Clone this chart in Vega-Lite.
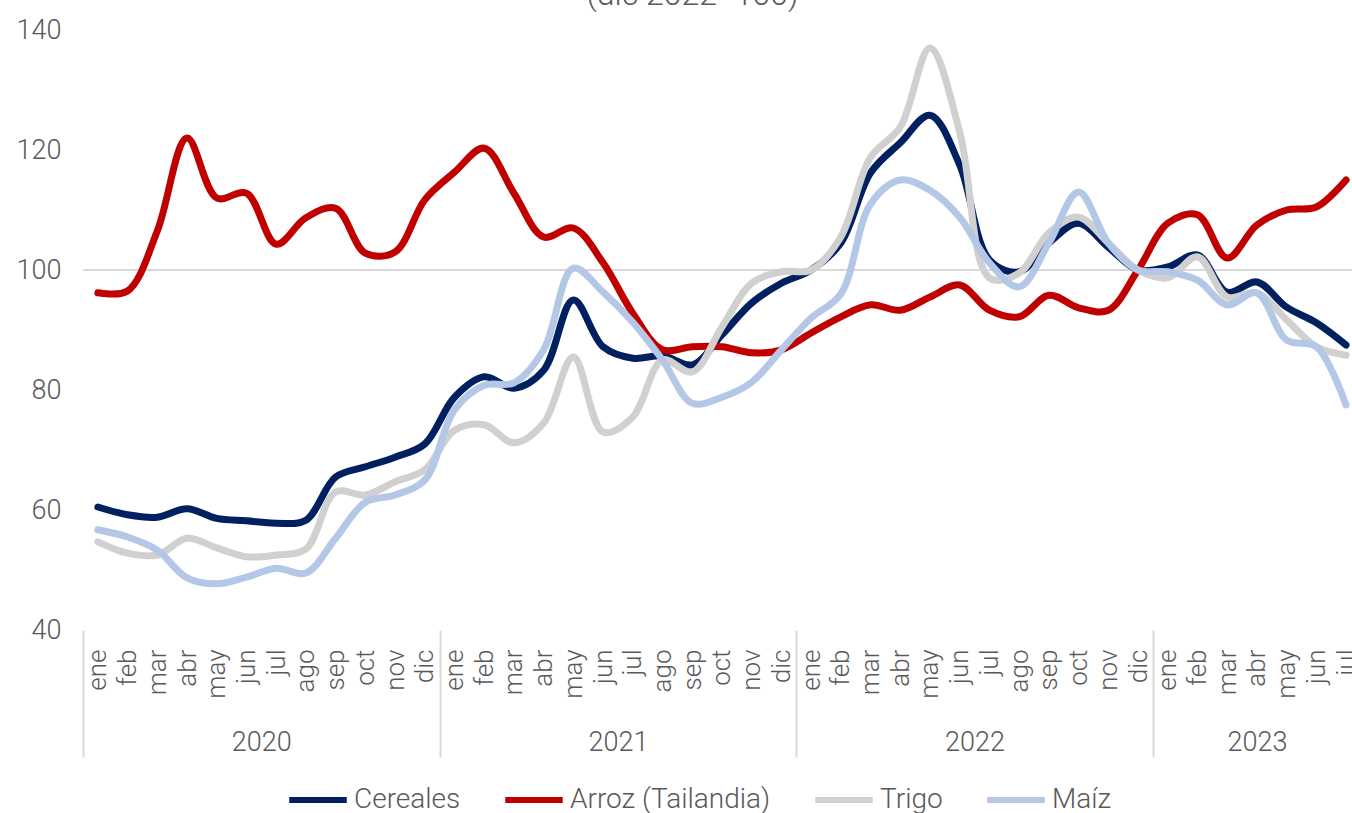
{
  "$schema": "https://vega.github.io/schema/vega-lite/v6.json",
  "width": 1269,
  "height": 600,
  "autosize": {"type": "none"},
  "padding": {"left": 83, "top": 30, "right": 0, "bottom": 183},
  "background": "white",
  "config": {
    "view": {"stroke": null},
    "font": "Roboto",
    "axis": {"labelFont": "Roboto", "labelFontWeight": 300, "labelColor": "#595959"},
    "legend": {"labelFont": "Roboto", "labelFontWeight": 300, "labelColor": "#595959"}
  },
  "title": {
    "text": "(dic 2022=100)",
    "fontSize": 32,
    "fontWeight": 300,
    "color": "#595959",
    "anchor": "middle",
    "dx": -25,
    "offset": 4
  },
  "data": {
    "values": [
      {"t":0,"s":"Cereales","v":60.5},{"t":1,"s":"Cereales","v":59.2},{"t":2,"s":"Cereales","v":58.8},{"t":3,"s":"Cereales","v":60.2},{"t":4,"s":"Cereales","v":58.6},{"t":5,"s":"Cereales","v":58.2},{"t":6,"s":"Cereales","v":57.8},{"t":7,"s":"Cereales","v":58.3},{"t":8,"s":"Cereales","v":65.5},{"t":9,"s":"Cereales","v":67.2},{"t":10,"s":"Cereales","v":68.8},{"t":11,"s":"Cereales","v":71},
      {"t":12,"s":"Cereales","v":78.8},{"t":13,"s":"Cereales","v":82.2},{"t":14,"s":"Cereales","v":80.3},{"t":15,"s":"Cereales","v":83.3},{"t":16,"s":"Cereales","v":95},{"t":17,"s":"Cereales","v":87.2},{"t":18,"s":"Cereales","v":85.3},{"t":19,"s":"Cereales","v":85.7},{"t":20,"s":"Cereales","v":84.2},{"t":21,"s":"Cereales","v":89.2},{"t":22,"s":"Cereales","v":94.5},{"t":23,"s":"Cereales","v":97.8},
      {"t":24,"s":"Cereales","v":100},{"t":25,"s":"Cereales","v":104.5},{"t":26,"s":"Cereales","v":116.2},{"t":27,"s":"Cereales","v":121.2},{"t":28,"s":"Cereales","v":125.8},{"t":29,"s":"Cereales","v":117.5},{"t":30,"s":"Cereales","v":101.7},{"t":31,"s":"Cereales","v":99.7},{"t":32,"s":"Cereales","v":104.5},{"t":33,"s":"Cereales","v":107.8},{"t":34,"s":"Cereales","v":103.8},{"t":35,"s":"Cereales","v":100},
      {"t":36,"s":"Cereales","v":100.5},{"t":37,"s":"Cereales","v":102.5},{"t":38,"s":"Cereales","v":96.3},{"t":39,"s":"Cereales","v":98},{"t":40,"s":"Cereales","v":93.8},{"t":41,"s":"Cereales","v":91.2},{"t":42,"s":"Cereales","v":87.5},
      {"t":0,"s":"Arroz (Tailandia)","v":96.2},{"t":1,"s":"Arroz (Tailandia)","v":96.5},{"t":2,"s":"Arroz (Tailandia)","v":106.5},{"t":3,"s":"Arroz (Tailandia)","v":122},{"t":4,"s":"Arroz (Tailandia)","v":112},{"t":5,"s":"Arroz (Tailandia)","v":112.8},{"t":6,"s":"Arroz (Tailandia)","v":104.3},{"t":7,"s":"Arroz (Tailandia)","v":108.7},{"t":8,"s":"Arroz (Tailandia)","v":110.3},{"t":9,"s":"Arroz (Tailandia)","v":102.8},{"t":10,"s":"Arroz (Tailandia)","v":103},{"t":11,"s":"Arroz (Tailandia)","v":111.7},
      {"t":12,"s":"Arroz (Tailandia)","v":116.3},{"t":13,"s":"Arroz (Tailandia)","v":120.3},{"t":14,"s":"Arroz (Tailandia)","v":112.8},{"t":15,"s":"Arroz (Tailandia)","v":105.5},{"t":16,"s":"Arroz (Tailandia)","v":107},{"t":17,"s":"Arroz (Tailandia)","v":101.2},{"t":18,"s":"Arroz (Tailandia)","v":92.8},{"t":19,"s":"Arroz (Tailandia)","v":86.7},{"t":20,"s":"Arroz (Tailandia)","v":87.2},{"t":21,"s":"Arroz (Tailandia)","v":87.2},{"t":22,"s":"Arroz (Tailandia)","v":86.2},{"t":23,"s":"Arroz (Tailandia)","v":86.7},
      {"t":24,"s":"Arroz (Tailandia)","v":89.5},{"t":25,"s":"Arroz (Tailandia)","v":92.2},{"t":26,"s":"Arroz (Tailandia)","v":94.2},{"t":27,"s":"Arroz (Tailandia)","v":93.3},{"t":28,"s":"Arroz (Tailandia)","v":95.5},{"t":29,"s":"Arroz (Tailandia)","v":97.5},{"t":30,"s":"Arroz (Tailandia)","v":93.3},{"t":31,"s":"Arroz (Tailandia)","v":92.2},{"t":32,"s":"Arroz (Tailandia)","v":95.8},{"t":33,"s":"Arroz (Tailandia)","v":93.7},{"t":34,"s":"Arroz (Tailandia)","v":93.3},{"t":35,"s":"Arroz (Tailandia)","v":100},
      {"t":36,"s":"Arroz (Tailandia)","v":107.8},{"t":37,"s":"Arroz (Tailandia)","v":109.2},{"t":38,"s":"Arroz (Tailandia)","v":102},{"t":39,"s":"Arroz (Tailandia)","v":107.5},{"t":40,"s":"Arroz (Tailandia)","v":110},{"t":41,"s":"Arroz (Tailandia)","v":110.5},{"t":42,"s":"Arroz (Tailandia)","v":115},
      {"t":0,"s":"Trigo","v":54.7},{"t":1,"s":"Trigo","v":52.8},{"t":2,"s":"Trigo","v":52.5},{"t":3,"s":"Trigo","v":55.3},{"t":4,"s":"Trigo","v":53.7},{"t":5,"s":"Trigo","v":52.2},{"t":6,"s":"Trigo","v":52.5},{"t":7,"s":"Trigo","v":53.5},{"t":8,"s":"Trigo","v":63},{"t":9,"s":"Trigo","v":62.5},{"t":10,"s":"Trigo","v":64.7},{"t":11,"s":"Trigo","v":66.7},
      {"t":12,"s":"Trigo","v":73.3},{"t":13,"s":"Trigo","v":74.2},{"t":14,"s":"Trigo","v":71.2},{"t":15,"s":"Trigo","v":74.5},{"t":16,"s":"Trigo","v":85.5},{"t":17,"s":"Trigo","v":73},{"t":18,"s":"Trigo","v":75.5},{"t":19,"s":"Trigo","v":85},{"t":20,"s":"Trigo","v":83},{"t":21,"s":"Trigo","v":90.5},{"t":22,"s":"Trigo","v":97.8},{"t":23,"s":"Trigo","v":99.7},
      {"t":24,"s":"Trigo","v":100},{"t":25,"s":"Trigo","v":105.5},{"t":26,"s":"Trigo","v":118.8},{"t":27,"s":"Trigo","v":123.8},{"t":28,"s":"Trigo","v":137},{"t":29,"s":"Trigo","v":123},{"t":30,"s":"Trigo","v":98.7},{"t":31,"s":"Trigo","v":99.5},{"t":32,"s":"Trigo","v":106.2},{"t":33,"s":"Trigo","v":108.8},{"t":34,"s":"Trigo","v":104.5},{"t":35,"s":"Trigo","v":100},
      {"t":36,"s":"Trigo","v":98.7},{"t":37,"s":"Trigo","v":102.2},{"t":38,"s":"Trigo","v":95.5},{"t":39,"s":"Trigo","v":96.2},{"t":40,"s":"Trigo","v":91.7},{"t":41,"s":"Trigo","v":87.2},{"t":42,"s":"Trigo","v":85.8},
      {"t":0,"s":"Maíz","v":56.7},{"t":1,"s":"Maíz","v":55.5},{"t":2,"s":"Maíz","v":53.3},{"t":3,"s":"Maíz","v":48.7},{"t":4,"s":"Maíz","v":47.7},{"t":5,"s":"Maíz","v":48.8},{"t":6,"s":"Maíz","v":50.3},{"t":7,"s":"Maíz","v":49.5},{"t":8,"s":"Maíz","v":55.3},{"t":9,"s":"Maíz","v":61.3},{"t":10,"s":"Maíz","v":62.5},{"t":11,"s":"Maíz","v":65},
      {"t":12,"s":"Maíz","v":76.7},{"t":13,"s":"Maíz","v":80.8},{"t":14,"s":"Maíz","v":81.2},{"t":15,"s":"Maíz","v":86.7},{"t":16,"s":"Maíz","v":100.3},{"t":17,"s":"Maíz","v":96.3},{"t":18,"s":"Maíz","v":91.3},{"t":19,"s":"Maíz","v":85},{"t":20,"s":"Maíz","v":77.8},{"t":21,"s":"Maíz","v":78.8},{"t":22,"s":"Maíz","v":81.3},{"t":23,"s":"Maíz","v":86.7},
      {"t":24,"s":"Maíz","v":92},{"t":25,"s":"Maíz","v":96},{"t":26,"s":"Maíz","v":111},{"t":27,"s":"Maíz","v":115},{"t":28,"s":"Maíz","v":113.3},{"t":29,"s":"Maíz","v":108.8},{"t":30,"s":"Maíz","v":101.2},{"t":31,"s":"Maíz","v":97.2},{"t":32,"s":"Maíz","v":104.5},{"t":33,"s":"Maíz","v":113},{"t":34,"s":"Maíz","v":104.5},{"t":35,"s":"Maíz","v":100},
      {"t":36,"s":"Maíz","v":99.7},{"t":37,"s":"Maíz","v":98.3},{"t":38,"s":"Maíz","v":94.2},{"t":39,"s":"Maíz","v":96.2},{"t":40,"s":"Maíz","v":88.3},{"t":41,"s":"Maíz","v":87.2},{"t":42,"s":"Maíz","v":77.5}
    ]
  },
  "layer": [
    {
      "mark": {"type": "rule", "color": "#d9d9d9", "strokeWidth": 2},
      "encoding": {
        "x": {
          "datum": -0.5,
          "type": "quantitative",
          "scale": {"domain": [-0.5, 42.2], "nice": false, "zero": false},
          "axis": {
            "orient": "bottom",
            "title": null,
            "grid": false,
            "domain": false,
            "values": [-0.5, 5.5, 11.5, 17.5, 23.5, 29.5, 35.5, 39],
            "labelExpr": "datum.value == 5.5 ? '2020' : datum.value == 17.5 ? '2021' : datum.value == 29.5 ? '2022' : datum.value == 39 ? '2023' : ''",
            "labelFontSize": 27,
            "labelAngle": 0,
            "labelAlign": "center",
            "labelBaseline": "top",
            "labelFlush": false,
            "labelOverlap": false,
            "labelPadding": -28,
            "ticks": true,
            "tickSize": 127,
            "tickWidth": 2,
            "tickColor": "#d9d9d9",
            "tickOpacity": {"condition": {"test": "datum.value == -0.5 || datum.value == 11.5 || datum.value == 23.5 || datum.value == 35.5", "value": 1}, "value": 0}
          }
        },
        "x2": {"datum": 42.2},
        "y": {
          "datum": 100,
          "type": "quantitative",
          "scale": {"domain": [40, 140], "nice": false, "zero": false},
          "axis": {"title": null, "grid": false, "domain": false, "ticks": false, "values": [40, 60, 80, 100, 120, 140], "labelFontSize": 27, "labelPadding": 22}
        }
      }
    },
    {
      "encoding": {
        "x": {
          "field": "t",
          "type": "quantitative",
          "scale": {"domain": [-0.5, 42.2], "nice": false, "zero": false},
          "axis": {
            "orient": "bottom",
            "title": null,
            "grid": false,
            "domain": false,
            "ticks": false,
            "values": [0,1,2,3,4,5,6,7,8,9,10,11,12,13,14,15,16,17,18,19,20,21,22,23,24,25,26,27,28,29,30,31,32,33,34,35,36,37,38,39,40,41,42],
            "labelExpr": "['ene','feb','mar','abr','may','jun','jul','ago','sep','oct','nov','dic'][datum.value % 12]",
            "labelFontSize": 26,
            "labelAngle": -90,
            "labelAlign": "right",
            "labelBaseline": "middle",
            "labelFlush": false,
            "labelOverlap": false,
            "labelBound": false,
            "labelPadding": 19
          }
        },
        "y": {
          "field": "v",
          "type": "quantitative",
          "scale": {"domain": [40, 140], "nice": false, "zero": false},
          "axis": {"title": null, "grid": false, "domain": false, "ticks": false, "values": [40, 60, 80, 100, 120, 140], "labelFontSize": 27, "labelPadding": 22}
        },
        "color": {
          "field": "s",
          "type": "nominal",
          "sort": ["Cereales", "Arroz (Tailandia)", "Trigo", "Maíz"],
          "scale": {"domain": ["Cereales", "Arroz (Tailandia)", "Trigo", "Maíz"], "range": ["#002060", "#C00000", "#D0D0D0", "#B4C7E7"]},
          "legend": {
            "title": null,
            "orient": "none",
            "direction": "horizontal",
            "legendX": 203,
            "legendY": 738,
            "symbolType": "stroke",
            "symbolSize": 3300,
            "symbolStrokeWidth": 6,
            "labelFontSize": 28,
            "labelLimit": 400,
            "labelOffset": 4,
            "columnPadding": 32,
            "symbolOffset": 0
          }
        }
      },
      "layer": [
        {"transform": [{"filter": "datum.s == 'Cereales'"}], "mark": {"type": "line", "interpolate": "catmull-rom", "strokeWidth": 7, "strokeCap": "round", "strokeJoin": "round"}},
        {"transform": [{"filter": "datum.s == 'Arroz (Tailandia)'"}], "mark": {"type": "line", "interpolate": "catmull-rom", "strokeWidth": 7, "strokeCap": "round", "strokeJoin": "round"}},
        {"transform": [{"filter": "datum.s == 'Trigo'"}], "mark": {"type": "line", "interpolate": "catmull-rom", "strokeWidth": 7, "strokeCap": "round", "strokeJoin": "round"}},
        {"transform": [{"filter": "datum.s == 'Maíz'"}], "mark": {"type": "line", "interpolate": "catmull-rom", "strokeWidth": 7, "strokeCap": "round", "strokeJoin": "round"}}
      ]
    }
  ],
  "resolve": {"scale": {"x": "independent"}, "axis": {"x": "independent"}}
}
